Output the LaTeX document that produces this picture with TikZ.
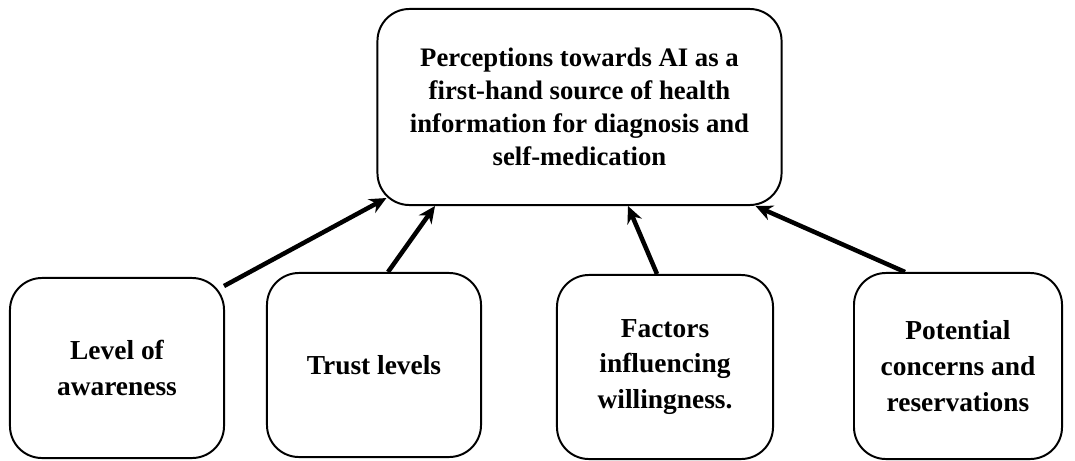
\documentclass[tikz,border=0pt]{standalone}
\usepackage{fontspec}
\setmainfont{Liberation Serif}
\usetikzlibrary{arrows.meta, calc}

\begin{document}
\begin{tikzpicture}[
    x=0.025cm, y=-0.025cm,
    topbox/.style={rectangle, draw, line width=1.4pt, rounded corners=0.8cm, minimum width=10.1cm, minimum height=4.9cm, align=center},
    factor/.style={rectangle, draw, line width=1.4pt, rounded corners=0.8cm, minimum width=5.35cm, minimum height=4.6cm, align=center, font=\bfseries\fontsize{19.5}{25.5}\selectfont},
    arrow/.style={-{Stealth[length=12pt, width=11pt]}, line width=3.2pt},
    font=\bfseries\fontsize{19}{23.5}\selectfont
]
\useasboundingbox (0,0) rectangle (1075,460);

% Main outcome
\node[topbox] (percep) at (579.5,107) {Perceptions towards AI as a\\first-hand source of health\\information for diagnosis and\\self-medication};

% Contributing factors
\node[factor, minimum height=4.5cm] (aware) at (117,368) {Level of\\awareness};
\node[factor] (trust) at (374,365) {Trust levels};
\node[factor, minimum width=5.4cm] (willing) at (665,367) {Factors\\influencing\\willingness.};
\node[factor, minimum width=5.2cm, minimum height=4.65cm] (concern) at (958,366) {Potential\\concerns and\\reservations};

% Arrows
\draw[arrow] ($(aware.north east)+(-1,9)$) -- ($(percep.south west)+(10,-8)$);
\draw[arrow] ($(trust.north)+(14,0)$) -- ($(percep.south)+(-144.5,0)$);
\draw[arrow] ($(willing.north)+(-8,0)$) -- ($(percep.south)+(48.5,0)$);
\draw[arrow] ($(concern.north)+(-53,0)$) -- ($(percep.south east)+(-27,0)$);

\end{tikzpicture}
\end{document}
